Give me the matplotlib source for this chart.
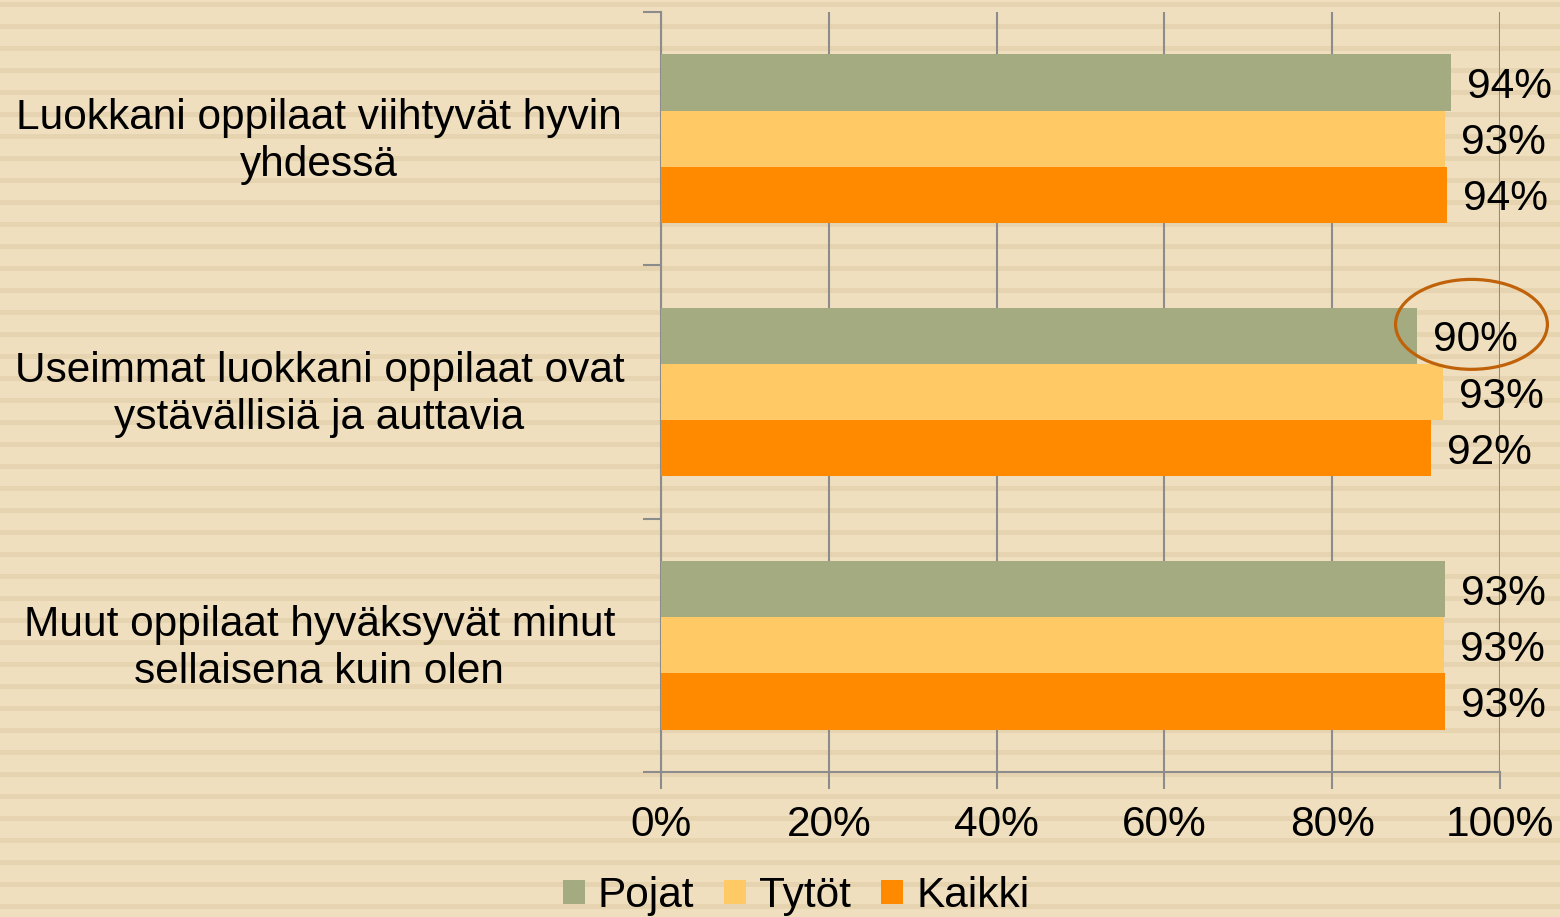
import numpy as np
import matplotlib.pyplot as plt
from matplotlib.patches import Ellipse, Patch

plt.rcParams['font.family'] = ['Liberation Sans', 'DejaVu Sans']

# kategoriat ylhäältä alas
kategoriat = [
    "Luokkani oppilaat viihtyvät hyvin\nyhdessä",
    "Useimmat luokkani oppilaat ovat\nystävällisiä ja auttavia",
    "Muut oppilaat hyväksyvät minut\nsellaisena kuin olen",
]
sarjat = ["Pojat", "Tytöt", "Kaikki"]
pojat = [94.2, 90.1, 93.4]
tytot = [93.4, 93.2, 93.3]
kaikki = [93.7, 91.8, 93.4]
varit = ["#A5AB81", "#FFCA66", "#FF8A00"]
xtikit = [0, 20, 40, 60, 80, 100]

fs = 30.5

fig = plt.figure(figsize=(15.6, 9.17), dpi=100)
fig.patch.set_facecolor("#EFDFBF")

# raidallinen tausta
tausta = fig.add_axes([0, 0, 1, 1], zorder=-10)
tausta.set_xlim(0, 1)
tausta.set_ylim(917, 0)
tausta.axis("off")
for y0 in np.arange(1.7, 917, 22):
    tausta.axhspan(y0, y0 + 5.5, color="#E6D4B0", lw=0)

ax = fig.add_axes([661 / 1560, 1 - 772 / 917, 839 / 1560, 760 / 917])
ax.set_facecolor("none")

ypos = np.array([2, 1, 0])
h = 0.222
arvot = [pojat, tytot, kaikki]
siirrot = [h, 0, -h]
for nimi, vals, vari, s in zip(sarjat, arvot, varit, siirrot):
    ax.barh(ypos + s, vals, height=h, color=vari, zorder=3, label=nimi)
    for y, v in zip(ypos + s, vals):
        ax.text(v + 1.9, y, f"{round(v)}%", va="center_baseline", ha="left",
                fontsize=fs, zorder=4)

ax.set_xlim(0, 100)
ax.set_ylim(-0.5, 2.5)
ax.set_xticks(xtikit)
ax.set_xticklabels([f"{t}%" for t in xtikit], fontsize=fs)
ax.xaxis.grid(True, color="#8C8C8C", lw=1.5, zorder=0)
ax.set_axisbelow(True)

ax.set_yticks(ypos + 0.02)
ax.set_yticklabels(kategoriat, fontsize=fs, ha="center", multialignment="center",
                   linespacing=1.22)
ax.tick_params(axis="y", which="major", length=0, pad=246)
ax.set_yticks([-0.5, 0.5, 1.5, 2.5], minor=True)
ax.tick_params(axis="y", which="minor", length=13, width=1.5, color="#8C8C8C")
ax.tick_params(axis="x", length=12, width=1.5, color="#8C8C8C", pad=12)

for k in ["top", "right"]:
    ax.spines[k].set_visible(False)
for k in ["left", "bottom"]:
    ax.spines[k].set_color("#8C8C8C")
    ax.spines[k].set_linewidth(1.5)

# korostus 90 %
ax.add_patch(Ellipse((96.6, 1 + h + 0.045), 18.1, 0.355, fill=False,
                     edgecolor="#C0620A", lw=2.3, zorder=5, clip_on=False))

kahvat = [Patch(facecolor=c, edgecolor="none") for c in varit]
fig.legend(kahvat, sarjat, loc="center", bbox_to_anchor=(796 / 1560, 1 - 896 / 917),
           ncol=3, frameon=False, fontsize=fs, handlelength=0.52, handleheight=0.52,
           handletextpad=0.3, columnspacing=0.72, borderpad=0)

fig.savefig("out.png", dpi=100, facecolor=fig.get_facecolor())
